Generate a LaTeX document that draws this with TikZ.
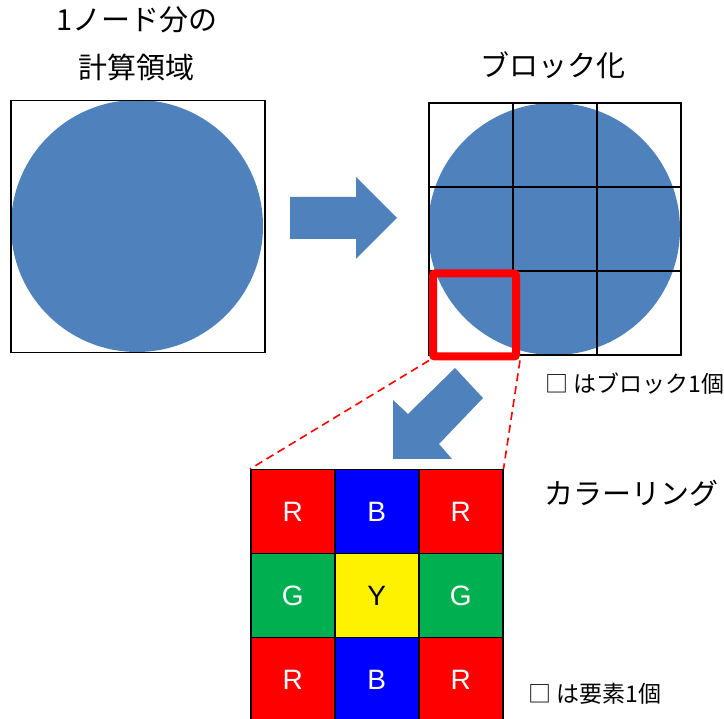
\documentclass[tikz,border=0pt]{standalone}
\usepackage{fontspec}
\setmainfont{Liberation Sans}
\newfontfamily\jp{Noto Sans CJK JP}
\definecolor{cblue}{HTML}{4F81BD}
\definecolor{cgreen}{HTML}{00B050}
\begin{document}
\begin{tikzpicture}[x=1pt,y=-1pt,
  gridcell/.style={draw=black,line width=2pt,minimum size=84pt,inner sep=0pt,anchor=north west},
  colcell/.style={draw=black,line width=1.5pt,minimum size=84pt,inner sep=0pt,anchor=north west,text=white,font=\fontsize{28}{28}\selectfont},
  title/.style={font=\jp\fontsize{29}{48}\selectfont,align=center},
  note/.style={font=\jp\fontsize{23}{26}\selectfont,anchor=west,inner sep=0pt},
  blockarrow/.style={fill=cblue,draw=none},
  redline/.style={draw=red,line width=1.6pt,dash pattern=on 8pt off 5pt}]
\useasboundingbox (0,0) rectangle (724,719);
% left domain
\fill[cblue] (137,226) circle (126);
\node[draw=black,line width=1.5pt,minimum width=254pt,minimum height=252pt,inner sep=0pt,anchor=north west] (dom) at (10,100) {};
\node[title] (t1) at (137,44) {1ノード分の\\計算領域};
% right arrow
\fill[blockarrow] (290,197) -- (356,197) -- (356,177) -- (397,218) -- (356,259) -- (356,239) -- (290,239) -- cycle;
% blocked domain
\fill[cblue] (554,229) circle (126);
\foreach \i in {0,1,2}{\foreach \j in {0,1,2}{
  \node[gridcell] (b\i\j) at (428+84*\i,102+84*\j) {};
}}
\node[title] (t2) at (553,65) {ブロック化};
% red block highlight
\node[draw=red,line width=8pt,rounded corners=2pt,minimum size=83pt,inner sep=0pt,anchor=north west] (sel) at (429,269.5) {};
\node[note] (n1) at (545,384) {□ はブロック1個};
% diagonal arrow
\fill[blockarrow] (393,459) -- (393,400) -- (408,414) -- (455,368) -- (483,398) -- (439,444) -- (452,459) -- cycle;
% coloring grid
\node[colcell,fill=red] (c00) at (250,469) {R};
\node[colcell,fill=blue] (c10) at (334,469) {B};
\node[colcell,fill=red] (c20) at (418,469) {R};
\node[colcell,fill=cgreen] (c01) at (250,553) {G};
\node[colcell,fill=yellow,text=black] (c11) at (334,553) {Y};
\node[colcell,fill=cgreen] (c21) at (418,553) {G};
\node[colcell,fill=red] (c02) at (250,637) {R};
\node[colcell,fill=blue] (c12) at (334,637) {B};
\node[colcell,fill=red] (c22) at (418,637) {R};
% dashed zoom lines
\draw[redline] (sel.south west) -- (c00.north west);
\draw[redline] (sel.south east) -- (c20.north east);
\node[title,anchor=west] (t3) at (541,493) {カラーリング};
\node[note] (n2) at (528,694) {□ は要素1個};
\end{tikzpicture}
\end{document}
